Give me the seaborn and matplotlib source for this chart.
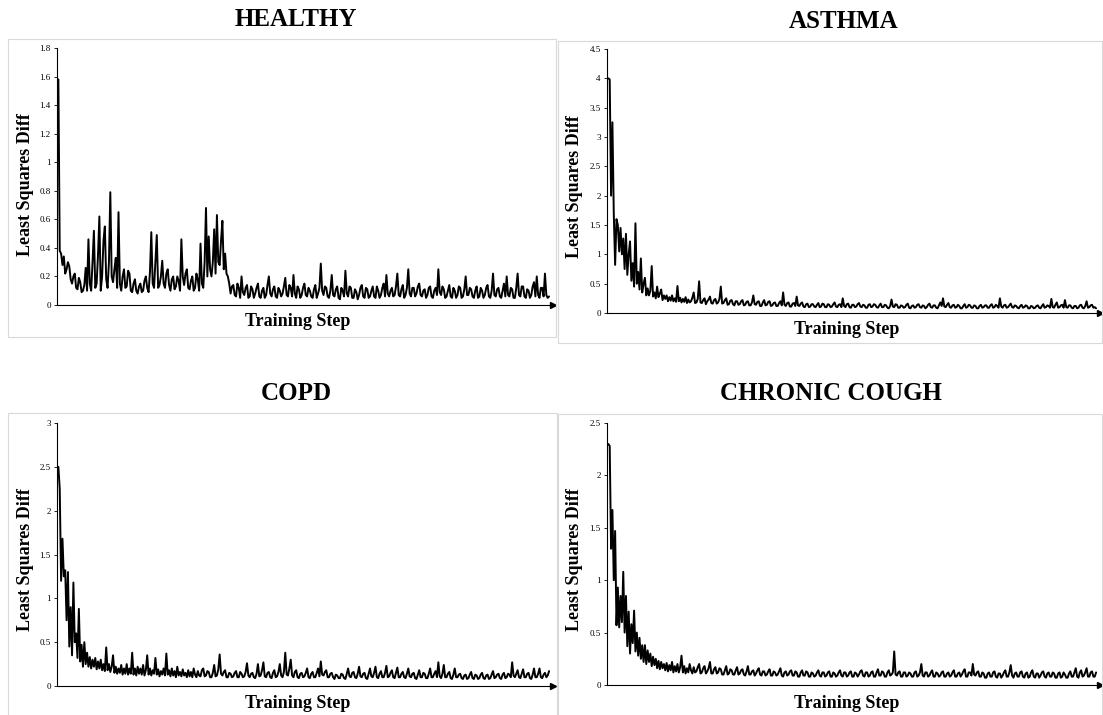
import numpy as np
import seaborn as sns
import matplotlib.pyplot as plt
from matplotlib.patches import Rectangle

# least squares difference per training step
healthy = [
    1.58, 0.38, 0.36, 0.28, 0.34, 0.22, 0.25, 0.3, 0.27, 0.18, 0.15, 0.2, 0.22, 0.12, 0.11, 0.19, 0.16, 0.09, 0.1, 0.14,
    0.26, 0.1, 0.46, 0.15, 0.1, 0.3, 0.52, 0.12, 0.15, 0.35, 0.62, 0.1, 0.2, 0.45, 0.55, 0.18, 0.12, 0.3, 0.79, 0.2,
    0.16, 0.25, 0.33, 0.12, 0.65, 0.15, 0.1, 0.2, 0.25, 0.12, 0.13, 0.24, 0.22, 0.1, 0.09, 0.15, 0.18, 0.1, 0.08, 0.13,
    0.15, 0.09, 0.1, 0.17, 0.2, 0.12, 0.09, 0.23, 0.51, 0.15, 0.12, 0.3, 0.49, 0.12, 0.14, 0.2, 0.31, 0.15, 0.12, 0.22,
    0.25, 0.14, 0.1, 0.18, 0.2, 0.11, 0.13, 0.2, 0.17, 0.1, 0.46, 0.2, 0.14, 0.22, 0.25, 0.12, 0.11, 0.17, 0.2, 0.1,
    0.12, 0.22, 0.18, 0.1, 0.43, 0.15, 0.12, 0.3, 0.68, 0.2, 0.48, 0.25, 0.2, 0.3, 0.53, 0.22, 0.63, 0.3, 0.28, 0.45,
    0.59, 0.25, 0.36, 0.22, 0.2, 0.15, 0.08, 0.13, 0.14, 0.07, 0.06, 0.15, 0.12, 0.05, 0.2, 0.09, 0.07, 0.12, 0.14, 0.05,
    0.06, 0.13, 0.11, 0.05, 0.08, 0.12, 0.15, 0.06, 0.05, 0.1, 0.12, 0.05, 0.07, 0.14, 0.2, 0.08, 0.06, 0.11, 0.13, 0.06,
    0.05, 0.12, 0.1, 0.06, 0.08, 0.13, 0.19, 0.07, 0.06, 0.14, 0.12, 0.06, 0.21, 0.08, 0.05, 0.13, 0.11, 0.05, 0.07, 0.12,
    0.15, 0.07, 0.06, 0.12, 0.1, 0.06, 0.05, 0.11, 0.14, 0.05, 0.08, 0.12, 0.29, 0.1, 0.07, 0.13, 0.12, 0.06, 0.05, 0.1,
    0.21, 0.07, 0.06, 0.11, 0.13, 0.05, 0.04, 0.12, 0.1, 0.06, 0.24, 0.08, 0.06, 0.13, 0.12, 0.05, 0.05, 0.11, 0.09, 0.04,
    0.07, 0.12, 0.14, 0.06, 0.05, 0.12, 0.11, 0.05, 0.06, 0.1, 0.13, 0.06, 0.05, 0.13, 0.1, 0.05, 0.07, 0.12, 0.15, 0.06,
    0.21, 0.08, 0.06, 0.1, 0.12, 0.06, 0.07, 0.13, 0.22, 0.07, 0.06, 0.11, 0.14, 0.05, 0.07, 0.12, 0.25, 0.08, 0.06, 0.12,
    0.12, 0.06, 0.08, 0.13, 0.15, 0.07, 0.06, 0.1, 0.11, 0.05, 0.07, 0.12, 0.13, 0.06, 0.05, 0.1, 0.12, 0.07, 0.25, 0.09,
    0.07, 0.13, 0.11, 0.05, 0.06, 0.1, 0.14, 0.06, 0.05, 0.12, 0.1, 0.05, 0.07, 0.13, 0.12, 0.05, 0.06, 0.11, 0.2, 0.07,
    0.07, 0.12, 0.11, 0.06, 0.05, 0.1, 0.13, 0.05, 0.06, 0.12, 0.1, 0.05, 0.07, 0.12, 0.14, 0.06, 0.05, 0.1, 0.22, 0.07,
    0.06, 0.11, 0.12, 0.06, 0.05, 0.1, 0.15, 0.06, 0.2, 0.07, 0.06, 0.12, 0.11, 0.05, 0.05, 0.12, 0.22, 0.07, 0.06, 0.13,
    0.13, 0.06, 0.05, 0.11, 0.1, 0.05, 0.07, 0.13, 0.16, 0.06, 0.2, 0.07, 0.05, 0.12, 0.12, 0.06, 0.22, 0.07, 0.05, 0.06,
]

asthma = [
    4.0, 3.98, 2.0, 3.25, 1.7, 0.82, 1.6, 1.5, 1.05, 1.45, 1.0, 1.27, 0.75, 1.35, 0.65, 1.0, 1.22, 0.55, 0.85, 0.45, 1.53,
    0.5, 0.7, 0.4, 0.93, 0.35, 0.5, 0.6, 0.3, 0.42, 0.3, 0.38, 0.8, 0.28, 0.35, 0.25, 0.45, 0.27, 0.33, 0.4, 0.22,
    0.3, 0.24, 0.3, 0.2, 0.27, 0.21, 0.3, 0.2, 0.25, 0.19, 0.46, 0.2, 0.26, 0.18, 0.24, 0.19, 0.27, 0.17, 0.23, 0.18,
    0.2, 0.26, 0.35, 0.17, 0.18, 0.24, 0.54, 0.18, 0.17, 0.22, 0.25, 0.15, 0.2, 0.23, 0.28, 0.17, 0.16, 0.22, 0.24, 0.16,
    0.18, 0.24, 0.45, 0.16, 0.17, 0.22, 0.25, 0.14, 0.15, 0.21, 0.22, 0.15, 0.13, 0.2, 0.2, 0.14, 0.15, 0.2, 0.22, 0.13,
    0.14, 0.19, 0.2, 0.13, 0.13, 0.18, 0.3, 0.15, 0.14, 0.19, 0.2, 0.12, 0.12, 0.18, 0.22, 0.13, 0.14, 0.19, 0.2, 0.12,
    0.13, 0.17, 0.18, 0.12, 0.12, 0.17, 0.2, 0.13, 0.35, 0.14, 0.12, 0.17, 0.18, 0.11, 0.11, 0.16, 0.17, 0.12, 0.28, 0.13,
    0.12, 0.16, 0.18, 0.11, 0.1, 0.15, 0.16, 0.1, 0.11, 0.15, 0.15, 0.11, 0.1, 0.14, 0.17, 0.1, 0.11, 0.16, 0.15, 0.1,
    0.1, 0.15, 0.14, 0.1, 0.11, 0.15, 0.18, 0.11, 0.1, 0.14, 0.15, 0.1, 0.25, 0.12, 0.1, 0.15, 0.16, 0.1, 0.09, 0.14,
    0.14, 0.1, 0.11, 0.15, 0.17, 0.11, 0.1, 0.14, 0.13, 0.09, 0.09, 0.14, 0.15, 0.1, 0.11, 0.15, 0.14, 0.1, 0.09, 0.13,
    0.16, 0.1, 0.1, 0.14, 0.13, 0.09, 0.08, 0.12, 0.23, 0.11, 0.1, 0.15, 0.14, 0.09, 0.09, 0.13, 0.12, 0.09, 0.1, 0.14,
    0.16, 0.09, 0.08, 0.12, 0.13, 0.09, 0.1, 0.14, 0.15, 0.1, 0.09, 0.13, 0.12, 0.08, 0.1, 0.14, 0.16, 0.1, 0.09, 0.13,
    0.13, 0.09, 0.08, 0.13, 0.18, 0.12, 0.25, 0.11, 0.1, 0.14, 0.17, 0.1, 0.09, 0.13, 0.14, 0.09, 0.1, 0.14, 0.12, 0.08,
    0.08, 0.12, 0.15, 0.09, 0.1, 0.14, 0.13, 0.09, 0.09, 0.13, 0.12, 0.08, 0.08, 0.12, 0.14, 0.09, 0.1, 0.13, 0.13, 0.09,
    0.09, 0.13, 0.15, 0.09, 0.1, 0.14, 0.12, 0.09, 0.25, 0.11, 0.09, 0.13, 0.14, 0.09, 0.1, 0.13, 0.16, 0.1, 0.09, 0.13,
    0.12, 0.09, 0.08, 0.12, 0.14, 0.09, 0.1, 0.13, 0.12, 0.08, 0.08, 0.12, 0.11, 0.08, 0.09, 0.12, 0.13, 0.09, 0.08, 0.12,
    0.15, 0.09, 0.1, 0.13, 0.12, 0.09, 0.24, 0.1, 0.09, 0.14, 0.18, 0.09, 0.1, 0.13, 0.14, 0.09, 0.22, 0.1, 0.09, 0.13,
    0.13, 0.09, 0.08, 0.12, 0.12, 0.08, 0.09, 0.13, 0.14, 0.09, 0.08, 0.12, 0.2, 0.09, 0.1, 0.13, 0.14, 0.09, 0.1, 0.08,
]

copd = [
    2.5, 2.25, 1.2, 1.68, 1.25, 1.32, 0.75, 1.3, 0.45, 0.9, 0.35, 1.18, 0.5, 0.6, 0.32, 0.88, 0.28, 0.47, 0.22, 0.5,
    0.25, 0.38, 0.22, 0.33, 0.2, 0.3, 0.22, 0.32, 0.19, 0.28, 0.2, 0.3, 0.18, 0.25, 0.17, 0.44, 0.18, 0.25, 0.16, 0.22,
    0.35, 0.15, 0.22, 0.14, 0.2, 0.15, 0.24, 0.13, 0.2, 0.14, 0.25, 0.13, 0.2, 0.14, 0.38, 0.13, 0.2, 0.12, 0.22, 0.14,
    0.2, 0.13, 0.24, 0.12, 0.18, 0.35, 0.13, 0.2, 0.12, 0.18, 0.14, 0.32, 0.13, 0.19, 0.11, 0.17, 0.13, 0.2, 0.12, 0.37,
    0.13, 0.18, 0.11, 0.2, 0.12, 0.17, 0.1, 0.22, 0.12, 0.16, 0.11, 0.19, 0.12, 0.15, 0.1, 0.18, 0.11, 0.16, 0.1, 0.2,
    0.13, 0.1, 0.17, 0.12, 0.11, 0.18, 0.2, 0.11, 0.12, 0.17, 0.16, 0.1, 0.1, 0.15, 0.24, 0.11, 0.12, 0.19, 0.36, 0.14,
    0.12, 0.16, 0.18, 0.1, 0.1, 0.15, 0.14, 0.1, 0.11, 0.15, 0.17, 0.1, 0.1, 0.16, 0.14, 0.1, 0.11, 0.16, 0.26, 0.12,
    0.1, 0.14, 0.15, 0.1, 0.09, 0.14, 0.25, 0.11, 0.12, 0.18, 0.27, 0.11, 0.1, 0.15, 0.16, 0.1, 0.09, 0.15, 0.18, 0.1,
    0.11, 0.16, 0.25, 0.12, 0.1, 0.16, 0.38, 0.13, 0.12, 0.2, 0.3, 0.12, 0.1, 0.16, 0.18, 0.1, 0.09, 0.14, 0.15, 0.1,
    0.11, 0.15, 0.2, 0.1, 0.09, 0.14, 0.16, 0.1, 0.1, 0.15, 0.2, 0.11, 0.28, 0.13, 0.12, 0.16, 0.18, 0.1, 0.1, 0.14,
    0.15, 0.1, 0.08, 0.13, 0.12, 0.09, 0.09, 0.14, 0.13, 0.09, 0.08, 0.14, 0.2, 0.11, 0.1, 0.15, 0.16, 0.1, 0.09, 0.14,
    0.22, 0.11, 0.1, 0.14, 0.15, 0.09, 0.08, 0.14, 0.2, 0.11, 0.1, 0.15, 0.22, 0.1, 0.09, 0.14, 0.17, 0.1, 0.1, 0.15,
    0.23, 0.1, 0.11, 0.15, 0.18, 0.1, 0.09, 0.15, 0.21, 0.1, 0.1, 0.14, 0.16, 0.1, 0.09, 0.14, 0.2, 0.11, 0.1, 0.14,
    0.15, 0.09, 0.08, 0.13, 0.18, 0.1, 0.1, 0.15, 0.14, 0.09, 0.09, 0.14, 0.2, 0.1, 0.1, 0.14, 0.17, 0.1, 0.27, 0.11,
    0.09, 0.14, 0.24, 0.1, 0.1, 0.14, 0.16, 0.09, 0.08, 0.13, 0.2, 0.1, 0.1, 0.13, 0.14, 0.09, 0.08, 0.12, 0.13, 0.08,
    0.09, 0.13, 0.16, 0.09, 0.08, 0.13, 0.12, 0.08, 0.09, 0.13, 0.15, 0.09, 0.08, 0.12, 0.13, 0.08, 0.09, 0.13, 0.17, 0.09,
    0.1, 0.13, 0.14, 0.09, 0.08, 0.13, 0.15, 0.09, 0.1, 0.14, 0.13, 0.1, 0.27, 0.12, 0.1, 0.14, 0.18, 0.1, 0.09, 0.14,
    0.19, 0.1, 0.1, 0.14, 0.15, 0.09, 0.08, 0.13, 0.2, 0.1, 0.1, 0.14, 0.2, 0.1, 0.09, 0.13, 0.15, 0.1, 0.12, 0.17,
]

chronic_cough = [
    2.3, 2.28, 1.3, 1.67, 1.0, 1.47, 0.57, 0.93, 0.55, 0.85, 0.6, 1.08, 0.5, 0.85, 0.37, 0.7, 0.3, 0.58, 0.4, 0.71, 0.32,
    0.5, 0.28, 0.45, 0.25, 0.38, 0.22, 0.38, 0.2, 0.33, 0.22, 0.3, 0.18, 0.27, 0.19, 0.25, 0.16, 0.23, 0.15, 0.22, 0.16,
    0.2, 0.14, 0.21, 0.13, 0.19, 0.14, 0.22, 0.12, 0.18, 0.13, 0.2, 0.12, 0.17, 0.28, 0.12, 0.18, 0.11, 0.16, 0.12, 0.2,
    0.14, 0.11, 0.17, 0.12, 0.13, 0.17, 0.2, 0.11, 0.12, 0.16, 0.18, 0.11, 0.13, 0.16, 0.22, 0.11, 0.11, 0.15, 0.17, 0.11,
    0.12, 0.16, 0.15, 0.1, 0.1, 0.14, 0.18, 0.1, 0.11, 0.15, 0.14, 0.1, 0.1, 0.14, 0.17, 0.1, 0.11, 0.14, 0.15, 0.1,
    0.09, 0.13, 0.18, 0.1, 0.1, 0.13, 0.14, 0.09, 0.11, 0.14, 0.16, 0.1, 0.09, 0.13, 0.13, 0.09, 0.1, 0.13, 0.15, 0.09,
    0.09, 0.13, 0.12, 0.09, 0.1, 0.13, 0.16, 0.09, 0.08, 0.12, 0.13, 0.09, 0.1, 0.13, 0.14, 0.09, 0.09, 0.13, 0.12, 0.08,
    0.08, 0.12, 0.14, 0.09, 0.09, 0.13, 0.12, 0.08, 0.08, 0.12, 0.11, 0.08, 0.09, 0.12, 0.14, 0.09, 0.08, 0.12, 0.12, 0.08,
    0.09, 0.12, 0.13, 0.08, 0.08, 0.12, 0.11, 0.08, 0.09, 0.12, 0.14, 0.09, 0.08, 0.12, 0.12, 0.08, 0.09, 0.12, 0.13, 0.08,
    0.08, 0.12, 0.11, 0.08, 0.1, 0.13, 0.14, 0.09, 0.08, 0.12, 0.12, 0.08, 0.09, 0.12, 0.13, 0.08, 0.08, 0.12, 0.15, 0.09,
    0.09, 0.13, 0.12, 0.08, 0.08, 0.12, 0.14, 0.09, 0.1, 0.12, 0.32, 0.1, 0.09, 0.12, 0.13, 0.08, 0.08, 0.12, 0.12, 0.08,
    0.09, 0.12, 0.11, 0.08, 0.08, 0.12, 0.13, 0.08, 0.09, 0.12, 0.2, 0.09, 0.08, 0.12, 0.12, 0.08, 0.09, 0.12, 0.14, 0.08,
    0.08, 0.12, 0.11, 0.08, 0.09, 0.12, 0.13, 0.08, 0.08, 0.11, 0.12, 0.08, 0.09, 0.12, 0.14, 0.08, 0.08, 0.11, 0.12, 0.08,
    0.1, 0.13, 0.15, 0.08, 0.08, 0.12, 0.12, 0.09, 0.2, 0.1, 0.09, 0.12, 0.13, 0.08, 0.08, 0.12, 0.11, 0.07, 0.07, 0.11,
    0.12, 0.08, 0.08, 0.12, 0.13, 0.08, 0.07, 0.11, 0.11, 0.07, 0.09, 0.12, 0.14, 0.08, 0.08, 0.12, 0.19, 0.09, 0.07, 0.11,
    0.12, 0.08, 0.08, 0.12, 0.13, 0.08, 0.07, 0.11, 0.12, 0.07, 0.08, 0.12, 0.14, 0.08, 0.07, 0.11, 0.11, 0.07, 0.09, 0.12,
    0.13, 0.08, 0.07, 0.11, 0.12, 0.08, 0.08, 0.12, 0.11, 0.07, 0.07, 0.11, 0.12, 0.07, 0.08, 0.12, 0.1, 0.07, 0.07, 0.11,
    0.13, 0.08, 0.08, 0.12, 0.16, 0.08, 0.07, 0.12, 0.14, 0.08, 0.09, 0.12, 0.16, 0.08, 0.08, 0.12, 0.13, 0.08, 0.08, 0.12,
]

titles = ["HEALTHY", "ASTHMA", "COPD", "CHRONIC COUGH"]
series = [healthy, asthma, copd, chronic_cough]
y_max = [1.8, 4.5, 3, 2.5]
y_step = [0.2, 0.5, 0.5, 0.5]

sns.set_style("white")
plt.rcParams['font.family'] = ['Liberation Serif', 'DejaVu Serif']
plt.rcParams['text.color'] = 'black'
plt.rcParams['ytick.color'] = 'black'

W, H = 1103, 715
fig = plt.figure(figsize=(W / 100, H / 100), dpi=100)

def fx(px):
    return px / W

def fy(px):
    return 1 - px / H

# pixel layout of each panel: axes box, frame box, title, x label, y label
axes_px = [(57, 553, 48, 305), (607, 1100, 49, 313),
           (57, 553, 423, 686), (607, 1100, 423, 685)]
frame_px = [(8, 556, 39, 337), (558, 1102, 41, 343),
            (8, 557, 413, 716), (558, 1102, 414, 716)]
title_px = [(296, 20), (844, 22), (296, 393), (831, 394)]
xlabel_px = [(298, 322), (847, 330), (298, 703), (847, 703)]
ylabel_px = [(25, 185), (575, 187), (25, 560), (575, 560)]

for k in range(4):
    l, r, t, b = frame_px[k]
    fig.add_artist(Rectangle((fx(l), fy(b)), fx(r - l), (b - t) / H,
                             transform=fig.transFigure, fill=False,
                             ec='#d9d9d9', lw=0.8))

    l, r, t, b = axes_px[k]
    ax = fig.add_axes([fx(l), fy(b), fx(r - l), (b - t) / H])
    vals = series[k]
    steps = np.arange(1, len(vals) + 1)
    sns.lineplot(x=steps, y=vals, ax=ax, color='black', linewidth=1.4,
                 estimator=None, zorder=3)

    ax.set_xlim(0, len(vals) * 1.008)
    ax.set_ylim(0, y_max[k])
    ticks = np.round(np.arange(0, y_max[k] + 1e-9, y_step[k]), 2)
    ax.set_yticks(ticks)
    ax.set_yticklabels([f"{v:g}" for v in ticks], fontsize=6.5)
    ax.set_xticks([])
    ax.tick_params(axis='y', direction='out', length=2.5, width=0.6,
                   pad=2, left=True)
    for s in ['top', 'right']:
        ax.spines[s].set_visible(False)
    for s in ['left', 'bottom']:
        ax.spines[s].set_color('black')
        ax.spines[s].set_linewidth(0.8)
    ax.plot(1, 0, marker='>', ms=5, color='black',
            transform=ax.transAxes, clip_on=False)
    ax.set_xlabel("")
    ax.set_ylabel("")

    tx, ty = title_px[k]
    fig.text(fx(tx), fy(ty), titles[k], ha='center', va='center',
             fontsize=18, fontweight='bold')
    tx, ty = xlabel_px[k]
    fig.text(fx(tx), fy(ty), "Training Step", ha='center', va='center',
             fontsize=13, fontweight='bold')
    tx, ty = ylabel_px[k]
    fig.text(fx(tx), fy(ty), "Least Squares Diff", ha='center',
             va='center', rotation=90, fontsize=13, fontweight='bold')

fig.savefig("out.png", dpi=100)
